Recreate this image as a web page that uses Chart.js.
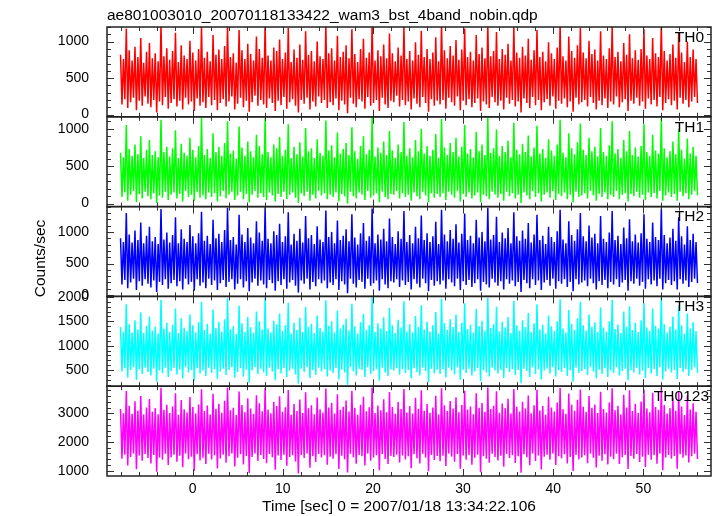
<!DOCTYPE html>
<html>
<head>
<meta charset="utf-8">
<script src="https://cdn.jsdelivr.net/npm/chart.js@4.4.1/dist/chart.umd.min.js"></script>
<style>
  html, body { margin: 0; padding: 0; background: #fff; }
  canvas { display: block; }
</style>
</head>
<body>
<canvas id="wam" width="717" height="516"></canvas>
<script>
const fileName = "ae801003010_20070118133422_wam3_bst_4band_nobin.qdp";
const xTitle = "Time [sec] 0 = 2007/01/18 13:34:22.106";
const yTitle = "Counts/sec";
const bands = ["TH0", "TH1", "TH2", "TH3", "TH0123"];
const colors = ["#ff0000", "#00ff00", "#0000ff", "#00ffff", "#ff00ff"];

// time span of the light curve (sec from T0) and the plotted window
const timeStart = -8;
const timeEnd = 56;
const xRange = [-9.5, 57.5];
const xTicks = [0, 10, 20, 30, 40, 50];
const xMinorStep = 2;

const yRanges = [[-30, 1200], [-40, 1160], [-20, 1400], [170, 2010], [815, 3945]];
const yTicks = [[0, 500, 1000], [0, 500, 1000], [0, 500, 1000], [500, 1000, 1500, 2000], [1000, 2000, 3000]];
const yMinorStep = [100, 100, 100, 100, 200];

// counts/sec (approximate, 400 bins per band)
const th0 = [
  820, 140, 760, 210, 1180, 90, 880, 170, 740, 230, 930, 60, 790, 190, 1050, 120, 710, 250, 860, 150,
  980, 100, 770, 200, 840, 30, 730, 180, 1240, 130, 800, 240, 910, 80, 750, 160, 870, 210, 1120, 110,
  720, 190, 950, 70, 810, 230, 760, 140, 1010, 180, 850, 50, 740, 220, 900, 120, 1200, 170, 780, 90,
  860, 240, 730, 130, 1090, 200, 820, 60, 890, 160, 760, 210, 940, 110, 1230, 180, 790, 250, 840, 70,
  710, 150, 1160, 230, 880, 100, 760, 190, 970, 40, 830, 170, 740, 260, 1070, 120, 900, 200, 780, 140,
  1250, 90, 810, 220, 740, 160, 920, 50, 870, 190, 1030, 130, 760, 240, 850, 80, 1190, 170, 720, 210,
  890, 120, 780, 30, 960, 200, 750, 150, 1140, 230, 820, 70, 870, 180, 730, 110, 1000, 250, 800, 160,
  760, 200, 1220, 90, 840, 170, 910, 130, 740, 220, 1080, 60, 790, 190, 860, 140, 950, 20, 770, 230,
  1170, 150, 830, 100, 720, 210, 900, 180, 1040, 80, 780, 240, 850, 120, 1250, 160, 740, 200, 880, 50,
  800, 230, 960, 140, 770, 90, 1110, 190, 840, 170, 730, 260, 920, 110, 810, 200, 1210, 130, 760, 180,
  870, 70, 740, 220, 990, 150, 820, 100, 1150, 240, 790, 160, 900, 40, 760, 210, 850, 120, 1060, 190,
  730, 140, 1240, 200, 880, 80, 770, 230, 940, 170, 810, 120, 1020, 250, 750, 60, 890, 190, 1180, 130,
  790, 210, 860, 100, 740, 160, 1090, 220, 830, 50, 920, 180, 770, 140, 1250, 90, 800, 240, 870, 170,
  1130, 120, 760, 190, 900, 70, 820, 230, 970, 150, 740, 200, 1200, 110, 850, 180, 780, 30, 930, 220,
  810, 160, 1040, 90, 750, 240, 880, 130, 1160, 200, 790, 60, 860, 170, 730, 210, 990, 120, 840, 250,
  760, 80, 920, 190, 1230, 150, 800, 220, 740, 100, 1070, 180, 870, 40, 780, 230, 950, 140, 1190, 170,
  850, 200, 770, 110, 1010, 240, 830, 160, 890, 70, 740, 190, 1140, 130, 810, 220, 760, 90, 910, 180,
  1220, 140, 790, 250, 860, 100, 730, 170, 980, 210, 820, 50, 1100, 190, 770, 150, 880, 230, 750, 120,
  900, 180, 1170, 80, 810, 220, 760, 140, 1050, 200, 840, 110, 790, 240, 1250, 60, 870, 160, 740, 210,
  830, 130, 960, 190, 780, 70, 1130, 230, 850, 150, 720, 200, 1000, 100, 790, 180, 890, 240, 760, 160
];
const th1 = [
  680, 90, 620, 150, 1050, 40, 730, 120, 640, 170, 790, 20, 660, 130, 900, 70, 610, 160, 720, 100,
  850, 60, 650, 140, 700, 10, 620, 110, 1120, 80, 690, 160, 760, 50, 630, 120, 740, 150, 980, 70,
  610, 130, 800, 30, 680, 170, 640, 90, 880, 120, 720, 40, 620, 160, 770, 80, 1150, 110, 650, 60,
  730, 150, 610, 90, 940, 140, 690, 30, 760, 100, 640, 170, 810, 70, 1100, 120, 670, 160, 710, 50,
  600, 110, 1030, 160, 750, 60, 640, 130, 830, 20, 700, 120, 620, 170, 920, 80, 770, 140, 660, 90,
  1140, 50, 690, 150, 620, 110, 790, 30, 740, 130, 890, 90, 640, 160, 720, 60, 1060, 120, 610, 150,
  760, 80, 660, 10, 820, 140, 630, 100, 1010, 160, 700, 40, 740, 120, 610, 70, 860, 170, 680, 110,
  640, 140, 1110, 60, 710, 120, 780, 90, 620, 150, 950, 30, 670, 130, 730, 100, 810, 0, 650, 160,
  1020, 100, 700, 70, 600, 150, 770, 120, 900, 50, 660, 170, 720, 80, 1160, 110, 630, 140, 750, 20,
  680, 160, 830, 90, 650, 60, 970, 130, 710, 120, 610, 170, 790, 70, 690, 140, 1090, 90, 640, 120,
  740, 40, 620, 150, 850, 100, 700, 60, 1000, 160, 670, 110, 770, 20, 640, 140, 720, 80, 930, 130,
  610, 90, 1130, 140, 750, 50, 650, 160, 810, 120, 690, 80, 880, 170, 630, 30, 760, 130, 1050, 90,
  670, 150, 730, 70, 620, 110, 960, 150, 700, 20, 790, 120, 650, 100, 1150, 60, 680, 160, 740, 120,
  990, 80, 640, 130, 770, 40, 690, 160, 840, 100, 620, 140, 1080, 70, 720, 120, 660, 10, 800, 150,
  690, 110, 910, 60, 630, 170, 750, 90, 1040, 140, 670, 30, 730, 120, 610, 150, 860, 80, 710, 170,
  640, 50, 790, 130, 1120, 100, 680, 150, 620, 60, 940, 120, 740, 20, 660, 160, 820, 90, 1070, 110,
  720, 140, 650, 70, 880, 170, 700, 110, 760, 40, 630, 130, 1010, 90, 690, 150, 640, 60, 780, 120,
  1100, 90, 670, 170, 730, 60, 610, 120, 850, 140, 700, 30, 970, 130, 650, 100, 750, 160, 630, 80,
  770, 120, 1060, 50, 690, 150, 640, 90, 920, 140, 710, 70, 670, 170, 1140, 40, 740, 110, 620, 150,
  700, 90, 830, 130, 660, 40, 1000, 160, 720, 100, 600, 140, 870, 60, 670, 120, 760, 170, 640, 110
];
const th2 = [
  900, 170, 840, 240, 1300, 110, 960, 200, 830, 260, 1020, 80, 870, 220, 1150, 150, 820, 250, 940, 180,
  1080, 120, 850, 230, 920, 50, 810, 210, 1360, 160, 880, 250, 990, 100, 830, 190, 950, 240, 1230, 140,
  820, 220, 1040, 90, 890, 260, 840, 170, 1110, 210, 930, 70, 820, 250, 980, 150, 1320, 200, 860, 110,
  940, 260, 810, 160, 1190, 230, 900, 80, 970, 190, 840, 240, 1030, 130, 1380, 210, 870, 250, 920, 90,
  800, 180, 1270, 250, 960, 120, 840, 220, 1060, 60, 910, 200, 820, 260, 1170, 150, 990, 230, 860, 170,
  1390, 110, 890, 240, 820, 190, 1010, 70, 950, 220, 1130, 160, 840, 250, 930, 100, 1310, 200, 800, 240,
  970, 150, 860, 40, 1050, 230, 830, 180, 1250, 260, 900, 90, 950, 210, 810, 140, 1090, 250, 880, 190,
  840, 230, 1340, 110, 920, 200, 1000, 160, 820, 250, 1180, 80, 870, 220, 940, 170, 1040, 30, 850, 260,
  1280, 180, 910, 120, 800, 240, 980, 210, 1140, 100, 860, 260, 930, 150, 1370, 190, 820, 230, 960, 70,
  880, 250, 1050, 170, 850, 110, 1210, 220, 920, 200, 810, 250, 1010, 130, 890, 230, 1330, 160, 840, 210,
  950, 90, 820, 250, 1080, 180, 900, 120, 1260, 260, 870, 190, 980, 60, 840, 240, 930, 150, 1160, 220,
  810, 170, 1350, 230, 960, 100, 850, 250, 1030, 200, 890, 140, 1120, 260, 830, 80, 970, 220, 1290, 160,
  870, 240, 940, 130, 820, 190, 1190, 250, 910, 70, 1000, 210, 850, 170, 1380, 120, 880, 260, 950, 200,
  1240, 150, 840, 220, 990, 90, 900, 250, 1060, 180, 820, 230, 1310, 140, 930, 210, 860, 50, 1020, 240,
  890, 190, 1140, 110, 830, 250, 960, 160, 1270, 230, 870, 80, 940, 200, 810, 240, 1080, 150, 920, 260,
  840, 100, 1010, 220, 1350, 180, 880, 250, 820, 130, 1170, 210, 950, 60, 860, 250, 1040, 170, 1300, 200,
  930, 230, 850, 140, 1100, 260, 910, 190, 970, 90, 820, 220, 1250, 160, 890, 240, 840, 110, 990, 210,
  1330, 170, 870, 250, 940, 130, 810, 200, 1070, 240, 900, 70, 1200, 220, 850, 180, 960, 260, 830, 150,
  980, 210, 1280, 100, 890, 250, 840, 170, 1150, 230, 920, 140, 870, 260, 1370, 90, 950, 190, 820, 240,
  910, 160, 1050, 220, 860, 90, 1230, 250, 930, 180, 800, 230, 1090, 130, 870, 210, 970, 260, 840, 190
];
const th3 = [
  1380, 470, 1290, 540, 1850, 350, 1440, 500, 1270, 560, 1520, 300, 1330, 520, 1680, 420, 1260, 550, 1410, 460,
  1600, 390, 1310, 530, 1390, 260, 1250, 490, 1940, 440, 1350, 550, 1470, 360, 1280, 480, 1430, 540, 1760, 410,
  1260, 510, 1560, 330, 1370, 560, 1300, 450, 1640, 500, 1420, 280, 1270, 540, 1480, 430, 1900, 490, 1320, 380,
  1450, 550, 1250, 440, 1740, 520, 1360, 320, 1490, 470, 1290, 530, 1540, 400, 1970, 500, 1340, 560, 1400, 350,
  1240, 460, 1820, 540, 1460, 370, 1280, 510, 1590, 240, 1380, 490, 1260, 560, 1700, 420, 1500, 530, 1330, 450,
  1980, 380, 1350, 550, 1270, 470, 1510, 290, 1440, 520, 1660, 430, 1300, 540, 1420, 360, 1880, 490, 1250, 530,
  1470, 410, 1320, 220, 1570, 530, 1280, 460, 1790, 560, 1390, 340, 1450, 500, 1260, 400, 1620, 550, 1360, 470,
  1290, 520, 1930, 370, 1410, 490, 1500, 440, 1270, 540, 1720, 310, 1350, 510, 1430, 450, 1550, 200, 1310, 560,
  1860, 470, 1400, 390, 1250, 530, 1480, 500, 1650, 360, 1320, 560, 1420, 420, 1990, 480, 1280, 520, 1460, 280,
  1350, 550, 1580, 450, 1300, 380, 1770, 510, 1420, 490, 1260, 540, 1530, 410, 1370, 520, 1910, 440, 1290, 500,
  1440, 330, 1270, 540, 1610, 460, 1380, 390, 1830, 550, 1330, 480, 1490, 250, 1290, 530, 1420, 430, 1690, 510,
  1250, 420, 1960, 520, 1460, 350, 1320, 550, 1540, 490, 1380, 410, 1640, 560, 1280, 300, 1470, 510, 1870, 440,
  1340, 530, 1430, 390, 1270, 470, 1750, 540, 1400, 270, 1510, 500, 1300, 450, 1980, 370, 1360, 550, 1440, 490,
  1800, 430, 1290, 510, 1490, 340, 1370, 540, 1590, 460, 1260, 520, 1920, 400, 1420, 500, 1310, 230, 1520, 530,
  1380, 480, 1670, 360, 1280, 560, 1460, 420, 1850, 520, 1330, 310, 1430, 490, 1250, 530, 1620, 430, 1400, 560,
  1300, 370, 1500, 500, 1950, 460, 1350, 540, 1270, 380, 1730, 490, 1450, 260, 1320, 550, 1560, 440, 1900, 480,
  1420, 520, 1310, 400, 1640, 560, 1390, 470, 1480, 330, 1280, 510, 1780, 420, 1370, 540, 1290, 360, 1500, 490,
  1940, 440, 1340, 560, 1430, 390, 1260, 480, 1700, 530, 1390, 290, 1810, 500, 1320, 450, 1470, 550, 1280, 410,
  1520, 490, 1870, 340, 1370, 540, 1300, 430, 1760, 520, 1410, 380, 1350, 560, 1990, 310, 1440, 470, 1270, 530,
  1390, 450, 1600, 500, 1330, 320, 1820, 540, 1420, 460, 1250, 520, 1660, 380, 1350, 500, 1480, 560, 1300, 440
];
const th0123 = [
  3150, 1420, 3000, 1560, 3780, 1180, 3260, 1480, 2980, 1600, 3420, 1050, 3090, 1530, 3600, 1350, 2960, 1580, 3200, 1440,
  3500, 1250, 3050, 1550, 3180, 960, 2970, 1460, 3890, 1380, 3120, 1590, 3300, 1200, 3010, 1470, 3240, 1560, 3700, 1310,
  2950, 1520, 3460, 1120, 3140, 1600, 3030, 1400, 3570, 1490, 3220, 1000, 2990, 1570, 3310, 1360, 3840, 1450, 3080, 1230,
  3270, 1590, 2960, 1390, 3680, 1540, 3160, 1080, 3330, 1430, 3020, 1560, 3440, 1280, 3900, 1500, 3110, 1600, 3190, 1150,
  2940, 1450, 3760, 1570, 3290, 1220, 3040, 1510, 3520, 920, 3170, 1480, 2980, 1600, 3630, 1340, 3350, 1550, 3070, 1410,
  3880, 1260, 3130, 1580, 3000, 1470, 3400, 1030, 3250, 1530, 3590, 1370, 3050, 1560, 3210, 1170, 3810, 1480, 2950, 1540,
  3320, 1320, 3080, 900, 3480, 1550, 3010, 1440, 3730, 1600, 3180, 1100, 3280, 1500, 2970, 1300, 3550, 1580, 3140, 1460,
  3030, 1540, 3860, 1210, 3200, 1490, 3370, 1420, 2990, 1570, 3660, 1060, 3120, 1520, 3230, 1400, 3450, 940, 3060, 1590,
  3790, 1470, 3190, 1240, 2950, 1550, 3300, 1500, 3580, 1180, 3070, 1600, 3210, 1350, 3900, 1460, 3010, 1540, 3270, 1020,
  3110, 1580, 3490, 1410, 3040, 1230, 3740, 1510, 3220, 1480, 2980, 1560, 3390, 1290, 3150, 1530, 3850, 1390, 3030, 1500,
  3250, 1090, 2990, 1570, 3540, 1430, 3160, 1250, 3800, 1590, 3090, 1460, 3320, 980, 3020, 1550, 3200, 1370, 3610, 1510,
  2960, 1330, 3870, 1520, 3280, 1160, 3080, 1600, 3430, 1490, 3170, 1310, 3560, 1580, 3040, 1070, 3290, 1530, 3790, 1380,
  3130, 1550, 3240, 1210, 2970, 1450, 3700, 1560, 3190, 950, 3360, 1500, 3050, 1420, 3900, 1280, 3150, 1590, 3260, 1480,
  3770, 1360, 3020, 1520, 3340, 1140, 3180, 1580, 3510, 1440, 2990, 1540, 3850, 1270, 3230, 1500, 3060, 930, 3400, 1570,
  3170, 1470, 3620, 1190, 3000, 1600, 3280, 1340, 3820, 1530, 3100, 1040, 3250, 1490, 2950, 1560, 3580, 1380, 3200, 1600,
  3060, 1200, 3380, 1500, 3880, 1430, 3140, 1570, 2980, 1250, 3690, 1480, 3300, 990, 3090, 1550, 3470, 1390, 3830, 1460,
  3230, 1540, 3050, 1260, 3600, 1600, 3190, 1450, 3310, 1110, 3010, 1520, 3750, 1350, 3150, 1570, 3030, 1220, 3380, 1490,
  3870, 1400, 3110, 1590, 3260, 1230, 2960, 1470, 3650, 1550, 3200, 1060, 3800, 1510, 3080, 1420, 3330, 1580, 3020, 1300,
  3410, 1490, 3830, 1130, 3170, 1560, 3040, 1380, 3720, 1540, 3220, 1240, 3120, 1600, 3900, 1020, 3290, 1460, 2990, 1550,
  3180, 1420, 3540, 1510, 3090, 1070, 3760, 1570, 3240, 1450, 2940, 1530, 3620, 1290, 3130, 1500, 3350, 1590, 3050, 1410
];
const series = [th0, th1, th2, th3, th0123];

const FONT = '"Liberation Sans", Arial, Helvetica, sans-serif';
Chart.defaults.font.family = FONT;
Chart.defaults.color = '#000';

const toPoints = vals => {
  const step = (timeEnd - timeStart) / (vals.length - 1);
  return vals.map((v, i) => ({ x: timeStart + i * step, y: v }));
};

const datasets = series.map((vals, i) => ({
  label: bands[i],
  data: toPoints(vals),
  yAxisID: 'y' + i,
  borderColor: colors[i],
  borderWidth: 1.5,
  pointRadius: 0,
  tension: 0,
  fill: false
}));

const plainLabel = v => String(v);

const scales = {
  x: {
    type: 'linear',
    min: xRange[0],
    max: xRange[1],
    grid: { display: false },
    border: { display: false },
    afterBuildTicks: s => { s.ticks = xTicks.map(v => ({ value: v })); },
    afterFit: s => { s.height = 40; },
    ticks: { font: { size: 14 }, padding: -3, maxRotation: 0, autoSkip: false, callback: plainLabel }
  }
};
bands.forEach((b, i) => {
  scales['y' + i] = {
    type: 'linear',
    position: 'left',
    stack: 'panels',
    stackWeight: 1,
    weight: bands.length - i,
    min: yRanges[i][0],
    max: yRanges[i][1],
    grid: { display: false },
    border: { display: false },
    afterBuildTicks: s => { s.ticks = yTicks[i].map(v => ({ value: v })); },
    afterFit: s => { s.width = 107; },
    ticks: { font: { size: 14 }, padding: 10, autoSkip: false, callback: plainLabel }
  };
});

const qdpFrame = {
  id: 'qdpFrame',
  afterDatasetsDraw(chart) {
    const { ctx } = chart;
    const xs = chart.scales.x;
    const left = xs.left, right = xs.right;
    ctx.save();
    bands.forEach((band, i) => {
      const ys = chart.scales['y' + i];
      const top = ys.top, bottom = ys.bottom;
      ctx.strokeStyle = '#333';
      ctx.lineWidth = 1;
      ctx.beginPath();
      const st = yMinorStep[i];
      for (let v = Math.ceil(yRanges[i][0] / st) * st; v <= yRanges[i][1]; v += st) {
        const y = Math.round(ys.getPixelForValue(v)) + 0.5;
        const len = yTicks[i].includes(v) ? 7 : 4;
        ctx.moveTo(left, y); ctx.lineTo(left + len, y);
        ctx.moveTo(right, y); ctx.lineTo(right - len, y);
      }
      for (let t = Math.ceil(xRange[0] / xMinorStep) * xMinorStep; t <= xRange[1]; t += xMinorStep) {
        const x = Math.round(xs.getPixelForValue(t)) + 0.5;
        const len = xTicks.includes(t) ? 7 : 4;
        ctx.moveTo(x, top); ctx.lineTo(x, top + len);
        ctx.moveTo(x, bottom); ctx.lineTo(x, bottom - len);
      }
      ctx.stroke();
      ctx.lineWidth = 1.5;
      ctx.strokeStyle = '#222';
      ctx.strokeRect(left, top, right - left, bottom - top);

      ctx.fillStyle = '#000';
      ctx.font = '15.5px ' + FONT;
      ctx.textBaseline = 'middle';
      ctx.textAlign = 'right';
      ctx.fillText(band, i === bands.length - 1 ? right - 2 : right - 7, top + 10.5);
    });

    ctx.textAlign = 'left';
    ctx.fillText(fileName, left, 16);
    ctx.textAlign = 'center';
    ctx.fillText(xTitle, (left + right) / 2 - 10, 507);
    ctx.translate(41, (chart.chartArea.top + chart.chartArea.bottom) / 2 + 7);
    ctx.rotate(-Math.PI / 2);
    ctx.fillText(yTitle, 0, 0);
    ctx.restore();
  }
};

new Chart(document.getElementById('wam'), {
  type: 'line',
  data: { datasets },
  options: {
    responsive: false,
    animation: false,
    normalized: true,
    layout: { padding: { top: 27, right: 6, bottom: 0, left: 0 } },
    plugins: { legend: { display: false }, tooltip: { enabled: false }, title: { display: false } },
    scales
  },
  plugins: [qdpFrame]
});
</script>
</body>
</html>
